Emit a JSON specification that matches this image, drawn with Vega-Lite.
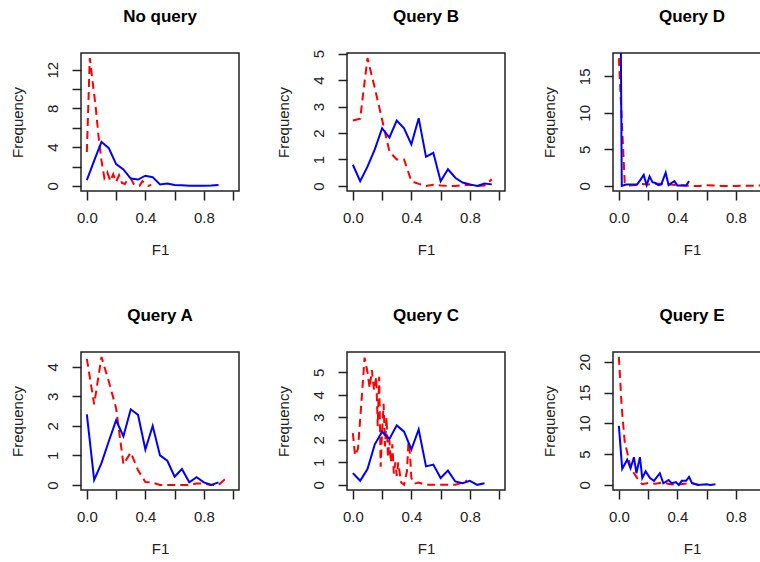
{
  "$schema": "https://vega.github.io/schema/vega-lite/v6.json",
  "background": "white",
  "padding": {"left": 9, "top": 7, "right": 0, "bottom": 0},
  "bounds": "flush",
  "columns": 3,
  "spacing": {"row": 161, "column": 108},
  "datasets": {
    "curves": [
      {"p":"No query","s":"blue","x":0,"y":0.6},{"p":"No query","s":"blue","x":0.05,"y":2.6},{"p":"No query","s":"blue","x":0.1,"y":4.55},{"p":"No query","s":"blue","x":0.15,"y":3.9},{"p":"No query","s":"blue","x":0.2,"y":2.25},{"p":"No query","s":"blue","x":0.25,"y":1.7},{"p":"No query","s":"blue","x":0.3,"y":0.75},{"p":"No query","s":"blue","x":0.35,"y":0.65},{"p":"No query","s":"blue","x":0.4,"y":1.05},{"p":"No query","s":"blue","x":0.45,"y":0.9},{"p":"No query","s":"blue","x":0.5,"y":0.15},{"p":"No query","s":"blue","x":0.55,"y":0.25},{"p":"No query","s":"blue","x":0.6,"y":0.08},{"p":"No query","s":"blue","x":0.65,"y":0.07},{"p":"No query","s":"blue","x":0.7,"y":0.02},{"p":"No query","s":"blue","x":0.75,"y":0.02},{"p":"No query","s":"blue","x":0.8,"y":0.02},{"p":"No query","s":"blue","x":0.85,"y":0.03},{"p":"No query","s":"blue","x":0.9,"y":0.08},
      {"p":"No query","s":"red","x":0,"y":3.5},{"p":"No query","s":"red","x":0.02,"y":13.2},{"p":"No query","s":"red","x":0.04,"y":10.7},{"p":"No query","s":"red","x":0.06,"y":8.2},{"p":"No query","s":"red","x":0.08,"y":5.1},{"p":"No query","s":"red","x":0.1,"y":2.6},{"p":"No query","s":"red","x":0.12,"y":0.8},{"p":"No query","s":"red","x":0.14,"y":1.4},{"p":"No query","s":"red","x":0.16,"y":0.5},{"p":"No query","s":"red","x":0.18,"y":1.2},{"p":"No query","s":"red","x":0.2,"y":0.4},{"p":"No query","s":"red","x":0.22,"y":1.1},{"p":"No query","s":"red","x":0.24,"y":0.3},{"p":"No query","s":"red","x":0.26,"y":0.2},{"p":"No query","s":"red","x":0.28,"y":0.7},{"p":"No query","s":"red","x":0.3,"y":0.8},{"p":"No query","s":"red","x":0.32,"y":0.2},{"p":"No query","s":"red","x":0.34,"y":0.05},{"p":"No query","s":"red","x":0.36,"y":0.0},{"p":"No query","s":"red","x":0.38,"y":0.5},{"p":"No query","s":"red","x":0.4,"y":0.2},{"p":"No query","s":"red","x":0.42,"y":0.0},{"p":"No query","s":"red","x":0.44,"y":0.1},

      {"p":"Query B","s":"blue","x":0,"y":0.8},{"p":"Query B","s":"blue","x":0.05,"y":0.18},{"p":"Query B","s":"blue","x":0.1,"y":0.73},{"p":"Query B","s":"blue","x":0.15,"y":1.38},{"p":"Query B","s":"blue","x":0.2,"y":2.18},{"p":"Query B","s":"blue","x":0.25,"y":1.83},{"p":"Query B","s":"blue","x":0.3,"y":2.47},{"p":"Query B","s":"blue","x":0.35,"y":2.18},{"p":"Query B","s":"blue","x":0.4,"y":1.57},{"p":"Query B","s":"blue","x":0.45,"y":2.56},{"p":"Query B","s":"blue","x":0.5,"y":1.1},{"p":"Query B","s":"blue","x":0.55,"y":1.25},{"p":"Query B","s":"blue","x":0.6,"y":0.18},{"p":"Query B","s":"blue","x":0.65,"y":0.63},{"p":"Query B","s":"blue","x":0.7,"y":0.31},{"p":"Query B","s":"blue","x":0.75,"y":0.13},{"p":"Query B","s":"blue","x":0.8,"y":0.06},{"p":"Query B","s":"blue","x":0.85,"y":0.0},{"p":"Query B","s":"blue","x":0.9,"y":0.09},{"p":"Query B","s":"blue","x":0.95,"y":0.06},
      {"p":"Query B","s":"red","x":0,"y":2.47},{"p":"Query B","s":"red","x":0.05,"y":2.54},{"p":"Query B","s":"red","x":0.1,"y":4.83},{"p":"Query B","s":"red","x":0.15,"y":3.7},{"p":"Query B","s":"red","x":0.2,"y":2.5},{"p":"Query B","s":"red","x":0.25,"y":1.3},{"p":"Query B","s":"red","x":0.3,"y":1.0},{"p":"Query B","s":"red","x":0.35,"y":1.0},{"p":"Query B","s":"red","x":0.4,"y":0.18},{"p":"Query B","s":"red","x":0.45,"y":0.08},{"p":"Query B","s":"red","x":0.5,"y":0.0},{"p":"Query B","s":"red","x":0.55,"y":0.05},{"p":"Query B","s":"red","x":0.6,"y":0.02},{"p":"Query B","s":"red","x":0.65,"y":0.0},{"p":"Query B","s":"red","x":0.7,"y":0.0},{"p":"Query B","s":"red","x":0.75,"y":0.03},{"p":"Query B","s":"red","x":0.8,"y":0.05},{"p":"Query B","s":"red","x":0.85,"y":0.0},{"p":"Query B","s":"red","x":0.9,"y":0.02},{"p":"Query B","s":"red","x":0.95,"y":0.25},

      {"p":"Query D","s":"blue","x":0.01,"y":30},{"p":"Query D","s":"blue","x":0.02,"y":0},{"p":"Query D","s":"blue","x":0.05,"y":0.2},{"p":"Query D","s":"blue","x":0.1,"y":0.2},{"p":"Query D","s":"blue","x":0.125,"y":0.2},{"p":"Query D","s":"blue","x":0.15,"y":0.9},{"p":"Query D","s":"blue","x":0.17,"y":1.5},{"p":"Query D","s":"blue","x":0.19,"y":0.1},{"p":"Query D","s":"blue","x":0.21,"y":1.3},{"p":"Query D","s":"blue","x":0.23,"y":0.5},{"p":"Query D","s":"blue","x":0.25,"y":0.4},{"p":"Query D","s":"blue","x":0.27,"y":0.1},{"p":"Query D","s":"blue","x":0.29,"y":0.2},{"p":"Query D","s":"blue","x":0.32,"y":1.8},{"p":"Query D","s":"blue","x":0.34,"y":0.1},{"p":"Query D","s":"blue","x":0.36,"y":0.4},{"p":"Query D","s":"blue","x":0.38,"y":0.65},{"p":"Query D","s":"blue","x":0.4,"y":0.05},{"p":"Query D","s":"blue","x":0.43,"y":0.05},{"p":"Query D","s":"blue","x":0.46,"y":0.05},{"p":"Query D","s":"blue","x":0.48,"y":0.65},
      {"p":"Query D","s":"red","x":0,"y":17.5},{"p":"Query D","s":"red","x":0.04,"y":0.5},{"p":"Query D","s":"red","x":0.06,"y":0.05},{"p":"Query D","s":"red","x":0.1,"y":0.1},{"p":"Query D","s":"red","x":0.15,"y":0.25},{"p":"Query D","s":"red","x":0.2,"y":0.2},{"p":"Query D","s":"red","x":0.25,"y":0.3},{"p":"Query D","s":"red","x":0.3,"y":0.3},{"p":"Query D","s":"red","x":0.35,"y":0.2},{"p":"Query D","s":"red","x":0.4,"y":0.1},{"p":"Query D","s":"red","x":0.45,"y":0.05},{"p":"Query D","s":"red","x":0.5,"y":0.0},{"p":"Query D","s":"red","x":0.55,"y":0.0},{"p":"Query D","s":"red","x":0.6,"y":0.1},{"p":"Query D","s":"red","x":0.65,"y":0.05},{"p":"Query D","s":"red","x":0.7,"y":0.0},{"p":"Query D","s":"red","x":0.75,"y":0.0},{"p":"Query D","s":"red","x":0.8,"y":0.0},{"p":"Query D","s":"red","x":0.85,"y":0.02},{"p":"Query D","s":"red","x":0.9,"y":0.02},{"p":"Query D","s":"red","x":0.95,"y":0.05},{"p":"Query D","s":"red","x":1.0,"y":0.05},

      {"p":"Query A","s":"blue","x":0,"y":2.39},{"p":"Query A","s":"blue","x":0.05,"y":0.17},{"p":"Query A","s":"blue","x":0.1,"y":0.74},{"p":"Query A","s":"blue","x":0.15,"y":1.48},{"p":"Query A","s":"blue","x":0.2,"y":2.19},{"p":"Query A","s":"blue","x":0.25,"y":1.65},{"p":"Query A","s":"blue","x":0.3,"y":2.56},{"p":"Query A","s":"blue","x":0.35,"y":2.37},{"p":"Query A","s":"blue","x":0.4,"y":1.2},{"p":"Query A","s":"blue","x":0.45,"y":2.0},{"p":"Query A","s":"blue","x":0.5,"y":1.0},{"p":"Query A","s":"blue","x":0.55,"y":0.82},{"p":"Query A","s":"blue","x":0.6,"y":0.28},{"p":"Query A","s":"blue","x":0.65,"y":0.54},{"p":"Query A","s":"blue","x":0.7,"y":0.09},{"p":"Query A","s":"blue","x":0.75,"y":0.26},{"p":"Query A","s":"blue","x":0.8,"y":0.09},{"p":"Query A","s":"blue","x":0.85,"y":0.0},{"p":"Query A","s":"blue","x":0.9,"y":0.09},
      {"p":"Query A","s":"red","x":0,"y":4.27},{"p":"Query A","s":"red","x":0.05,"y":2.73},{"p":"Query A","s":"red","x":0.1,"y":4.33},{"p":"Query A","s":"red","x":0.15,"y":3.5},{"p":"Query A","s":"red","x":0.2,"y":2.6},{"p":"Query A","s":"red","x":0.25,"y":0.7},{"p":"Query A","s":"red","x":0.3,"y":1.1},{"p":"Query A","s":"red","x":0.35,"y":0.5},{"p":"Query A","s":"red","x":0.4,"y":0.1},{"p":"Query A","s":"red","x":0.45,"y":0.08},{"p":"Query A","s":"red","x":0.5,"y":0.0},{"p":"Query A","s":"red","x":0.55,"y":0.0},{"p":"Query A","s":"red","x":0.6,"y":0.0},{"p":"Query A","s":"red","x":0.65,"y":0.0},{"p":"Query A","s":"red","x":0.7,"y":0.0},{"p":"Query A","s":"red","x":0.75,"y":0.05},{"p":"Query A","s":"red","x":0.8,"y":0.05},{"p":"Query A","s":"red","x":0.85,"y":0.0},{"p":"Query A","s":"red","x":0.9,"y":0.0},{"p":"Query A","s":"red","x":0.95,"y":0.22},

      {"p":"Query C","s":"blue","x":0,"y":0.52},{"p":"Query C","s":"blue","x":0.05,"y":0.18},{"p":"Query C","s":"blue","x":0.1,"y":0.7},{"p":"Query C","s":"blue","x":0.15,"y":1.8},{"p":"Query C","s":"blue","x":0.2,"y":2.36},{"p":"Query C","s":"blue","x":0.25,"y":2.04},{"p":"Query C","s":"blue","x":0.3,"y":2.64},{"p":"Query C","s":"blue","x":0.35,"y":2.36},{"p":"Query C","s":"blue","x":0.4,"y":1.57},{"p":"Query C","s":"blue","x":0.45,"y":2.46},{"p":"Query C","s":"blue","x":0.5,"y":0.82},{"p":"Query C","s":"blue","x":0.55,"y":0.9},{"p":"Query C","s":"blue","x":0.6,"y":0.3},{"p":"Query C","s":"blue","x":0.65,"y":0.63},{"p":"Query C","s":"blue","x":0.7,"y":0.15},{"p":"Query C","s":"blue","x":0.75,"y":0.07},{"p":"Query C","s":"blue","x":0.8,"y":0.18},{"p":"Query C","s":"blue","x":0.85,"y":0.0},{"p":"Query C","s":"blue","x":0.9,"y":0.07},
      {"p":"Query C","s":"red","x":0,"y":2.3},{"p":"Query C","s":"red","x":0.015,"y":1.3},{"p":"Query C","s":"red","x":0.035,"y":1.6},{"p":"Query C","s":"red","x":0.06,"y":3.8},{"p":"Query C","s":"red","x":0.08,"y":5.65},{"p":"Query C","s":"red","x":0.1,"y":5.0},{"p":"Query C","s":"red","x":0.115,"y":4.3},{"p":"Query C","s":"red","x":0.13,"y":5.1},{"p":"Query C","s":"red","x":0.145,"y":4.2},{"p":"Query C","s":"red","x":0.16,"y":4.8},{"p":"Query C","s":"red","x":0.17,"y":2.6},{"p":"Query C","s":"red","x":0.18,"y":4.8},{"p":"Query C","s":"red","x":0.19,"y":0.8},{"p":"Query C","s":"red","x":0.2,"y":2.4},{"p":"Query C","s":"red","x":0.21,"y":3.6},{"p":"Query C","s":"red","x":0.22,"y":1.7},{"p":"Query C","s":"red","x":0.23,"y":3.0},{"p":"Query C","s":"red","x":0.24,"y":1.2},{"p":"Query C","s":"red","x":0.25,"y":2.0},{"p":"Query C","s":"red","x":0.26,"y":1.0},{"p":"Query C","s":"red","x":0.27,"y":1.8},{"p":"Query C","s":"red","x":0.28,"y":0.5},{"p":"Query C","s":"red","x":0.29,"y":1.0},{"p":"Query C","s":"red","x":0.3,"y":0.4},{"p":"Query C","s":"red","x":0.31,"y":1.0},{"p":"Query C","s":"red","x":0.33,"y":0.1},{"p":"Query C","s":"red","x":0.35,"y":0.0},{"p":"Query C","s":"red","x":0.37,"y":0.6},{"p":"Query C","s":"red","x":0.38,"y":1.9},{"p":"Query C","s":"red","x":0.39,"y":1.4},{"p":"Query C","s":"red","x":0.4,"y":0.3},{"p":"Query C","s":"red","x":0.42,"y":0.05},{"p":"Query C","s":"red","x":0.45,"y":0.1},{"p":"Query C","s":"red","x":0.5,"y":0.0},{"p":"Query C","s":"red","x":0.55,"y":0.0},{"p":"Query C","s":"red","x":0.6,"y":0.0},{"p":"Query C","s":"red","x":0.65,"y":0.0},{"p":"Query C","s":"red","x":0.7,"y":0.0},{"p":"Query C","s":"red","x":0.75,"y":0.1},{"p":"Query C","s":"red","x":0.78,"y":0.2},

      {"p":"Query E","s":"blue","x":0,"y":9.6},{"p":"Query E","s":"blue","x":0.023,"y":2.6},{"p":"Query E","s":"blue","x":0.057,"y":4.1},{"p":"Query E","s":"blue","x":0.08,"y":2.7},{"p":"Query E","s":"blue","x":0.103,"y":4.5},{"p":"Query E","s":"blue","x":0.12,"y":1.9},{"p":"Query E","s":"blue","x":0.144,"y":4.5},{"p":"Query E","s":"blue","x":0.16,"y":1.1},{"p":"Query E","s":"blue","x":0.183,"y":2.2},{"p":"Query E","s":"blue","x":0.213,"y":1.1},{"p":"Query E","s":"blue","x":0.24,"y":0.66},{"p":"Query E","s":"blue","x":0.28,"y":1.9},{"p":"Query E","s":"blue","x":0.304,"y":0.27},{"p":"Query E","s":"blue","x":0.34,"y":0.8},{"p":"Query E","s":"blue","x":0.36,"y":0.27},{"p":"Query E","s":"blue","x":0.39,"y":0.44},{"p":"Query E","s":"blue","x":0.41,"y":0.0},{"p":"Query E","s":"blue","x":0.43,"y":0.66},{"p":"Query E","s":"blue","x":0.46,"y":0.66},{"p":"Query E","s":"blue","x":0.48,"y":1.3},{"p":"Query E","s":"blue","x":0.5,"y":0.27},{"p":"Query E","s":"blue","x":0.54,"y":0.0},{"p":"Query E","s":"blue","x":0.6,"y":0.1},{"p":"Query E","s":"blue","x":0.625,"y":0.0},{"p":"Query E","s":"blue","x":0.66,"y":0.1},
      {"p":"Query E","s":"red","x":0,"y":20.8},{"p":"Query E","s":"red","x":0.02,"y":12.5},{"p":"Query E","s":"red","x":0.04,"y":7.0},{"p":"Query E","s":"red","x":0.06,"y":5.0},{"p":"Query E","s":"red","x":0.08,"y":2.8},{"p":"Query E","s":"red","x":0.1,"y":2.0},{"p":"Query E","s":"red","x":0.12,"y":1.3},{"p":"Query E","s":"red","x":0.14,"y":0.6},{"p":"Query E","s":"red","x":0.16,"y":0.1},{"p":"Query E","s":"red","x":0.2,"y":0.3},{"p":"Query E","s":"red","x":0.25,"y":0.2},{"p":"Query E","s":"red","x":0.3,"y":0.4},{"p":"Query E","s":"red","x":0.35,"y":0.1},{"p":"Query E","s":"red","x":0.4,"y":0.05},{"p":"Query E","s":"red","x":0.45,"y":0.2},{"p":"Query E","s":"red","x":0.5,"y":0.3},{"p":"Query E","s":"red","x":0.55,"y":0.0}
    ]
  },
  "data": {"name": "curves"},
  "concat": [
    {
      "title": "No query", "width": 158, "height": 138,
      "transform": [{"filter": "datum.p === 'No query'"}],
      "encoding": {
        "x": {"field": "x", "type": "quantitative", "title": "F1", "scale": {"domain": [-0.04, 1.04], "nice": false, "zero": false}, "axis": {"values": [0, 0.2, 0.4, 0.6, 0.8, 1], "format": ".1f", "labelExpr": "round(datum.value*10) % 4 == 0 ? datum.label : ''"}},
        "y": {"field": "y", "type": "quantitative", "title": "Frequency", "scale": {"domain": [-0.53, 13.73], "nice": false, "zero": false}, "axis": {"values": [0, 2, 4, 6, 8, 10, 12], "labelExpr": "datum.value % 4 == 0 ? datum.label : ''"}}
      },
      "layer": [
        {"transform": [{"filter": "datum.s === 'red'"}], "mark": {"type": "line", "color": "#FF0000", "strokeDash": [8, 5], "strokeWidth": 2, "clip": true}},
        {"transform": [{"filter": "datum.s === 'blue'"}], "mark": {"type": "line", "color": "#0000FF", "strokeWidth": 2, "clip": true}}
      ]
    },
    {
      "title": {"text": "Query B", "dy": 4}, "width": 158, "height": 138,
      "transform": [{"filter": "datum.p === 'Query B'"}],
      "encoding": {
        "x": {"field": "x", "type": "quantitative", "title": "F1", "scale": {"domain": [-0.04, 1.04], "nice": false, "zero": false}, "axis": {"values": [0, 0.2, 0.4, 0.6, 0.8, 1], "format": ".1f", "labelExpr": "round(datum.value*10) % 4 == 0 ? datum.label : ''"}},
        "y": {"field": "y", "type": "quantitative", "title": "Frequency", "scale": {"domain": [-0.19, 5.02], "nice": false, "zero": false}, "axis": {"values": [0, 1, 2, 3, 4, 5]}}
      },
      "layer": [
        {"transform": [{"filter": "datum.s === 'red'"}], "mark": {"type": "line", "color": "#FF0000", "strokeDash": [8, 5], "strokeWidth": 2, "clip": true}},
        {"transform": [{"filter": "datum.s === 'blue'"}], "mark": {"type": "line", "color": "#0000FF", "strokeWidth": 2, "clip": true}}
      ]
    },
    {
      "title": "Query D", "width": 158, "height": 138,
      "transform": [{"filter": "datum.p === 'Query D'"}],
      "encoding": {
        "x": {"field": "x", "type": "quantitative", "title": "F1", "scale": {"domain": [-0.04, 1.04], "nice": false, "zero": false}, "axis": {"values": [0, 0.2, 0.4, 0.6, 0.8, 1], "format": ".1f", "labelExpr": "round(datum.value*10) % 4 == 0 ? datum.label : ''"}},
        "y": {"field": "y", "type": "quantitative", "title": "Frequency", "scale": {"domain": [-0.7, 18.2], "nice": false, "zero": false}, "axis": {"values": [0, 5, 10, 15]}}
      },
      "layer": [
        {"transform": [{"filter": "datum.s === 'red'"}], "mark": {"type": "line", "color": "#FF0000", "strokeDash": [8, 5], "strokeWidth": 2, "clip": true}},
        {"transform": [{"filter": "datum.s === 'blue'"}], "mark": {"type": "line", "color": "#0000FF", "strokeWidth": 2, "clip": true}}
      ]
    },
    {
      "title": "Query A", "width": 158, "height": 138,
      "transform": [{"filter": "datum.p === 'Query A'"}],
      "encoding": {
        "x": {"field": "x", "type": "quantitative", "title": "F1", "scale": {"domain": [-0.04, 1.04], "nice": false, "zero": false}, "axis": {"values": [0, 0.2, 0.4, 0.6, 0.8, 1], "format": ".1f", "labelExpr": "round(datum.value*10) % 4 == 0 ? datum.label : ''"}},
        "y": {"field": "y", "type": "quantitative", "title": "Frequency", "scale": {"domain": [-0.17, 4.5], "nice": false, "zero": false}, "axis": {"values": [0, 1, 2, 3, 4]}}
      },
      "layer": [
        {"transform": [{"filter": "datum.s === 'red'"}], "mark": {"type": "line", "color": "#FF0000", "strokeDash": [8, 5], "strokeWidth": 2, "clip": true}},
        {"transform": [{"filter": "datum.s === 'blue'"}], "mark": {"type": "line", "color": "#0000FF", "strokeWidth": 2, "clip": true}}
      ]
    },
    {
      "title": "Query C", "width": 158, "height": 138,
      "transform": [{"filter": "datum.p === 'Query C'"}],
      "encoding": {
        "x": {"field": "x", "type": "quantitative", "title": "F1", "scale": {"domain": [-0.04, 1.04], "nice": false, "zero": false}, "axis": {"values": [0, 0.2, 0.4, 0.6, 0.8, 1], "format": ".1f", "labelExpr": "round(datum.value*10) % 4 == 0 ? datum.label : ''"}},
        "y": {"field": "y", "type": "quantitative", "title": "Frequency", "scale": {"domain": [-0.23, 5.9], "nice": false, "zero": false}, "axis": {"values": [0, 1, 2, 3, 4, 5]}}
      },
      "layer": [
        {"transform": [{"filter": "datum.s === 'red'"}], "mark": {"type": "line", "color": "#FF0000", "strokeDash": [8, 5], "strokeWidth": 2, "clip": true}},
        {"transform": [{"filter": "datum.s === 'blue'"}], "mark": {"type": "line", "color": "#0000FF", "strokeWidth": 2, "clip": true}}
      ]
    },
    {
      "title": "Query E", "width": 158, "height": 138,
      "transform": [{"filter": "datum.p === 'Query E'"}],
      "encoding": {
        "x": {"field": "x", "type": "quantitative", "title": "F1", "scale": {"domain": [-0.04, 1.04], "nice": false, "zero": false}, "axis": {"values": [0, 0.2, 0.4, 0.6, 0.8, 1], "format": ".1f", "labelExpr": "round(datum.value*10) % 4 == 0 ? datum.label : ''"}},
        "y": {"field": "y", "type": "quantitative", "title": "Frequency", "scale": {"domain": [-0.83, 21.6], "nice": false, "zero": false}, "axis": {"values": [0, 5, 10, 15, 20]}}
      },
      "layer": [
        {"transform": [{"filter": "datum.s === 'red'"}], "mark": {"type": "line", "color": "#FF0000", "strokeDash": [8, 5], "strokeWidth": 2, "clip": true}},
        {"transform": [{"filter": "datum.s === 'blue'"}], "mark": {"type": "line", "color": "#0000FF", "strokeWidth": 2, "clip": true}}
      ]
    }
  ],
  "config": {
    "view": {"stroke": "#222222", "strokeWidth": 1.5},
    "title": {"font": "Liberation Sans", "fontSize": 17, "fontWeight": "bold", "color": "#000000", "anchor": "middle", "frame": "group", "baseline": "alphabetic", "offset": 27},
    "axis": {"grid": false, "domain": false, "ticks": true, "tickSize": 9, "tickColor": "#222222", "tickWidth": 1.5, "labelFont": "Liberation Sans", "labelFontSize": 15, "labelColor": "#222222", "labelFlush": false, "labelOverlap": false, "titleFont": "Liberation Sans", "titleFontSize": 15, "titleFontWeight": "normal", "titleColor": "#222222"},
    "axisX": {"labelPadding": 10, "titlePadding": 17},
    "axisY": {"labelAngle": -90, "labelAlign": "center", "labelBaseline": "bottom", "labelPadding": 12, "titlePadding": 20}
  }
}
